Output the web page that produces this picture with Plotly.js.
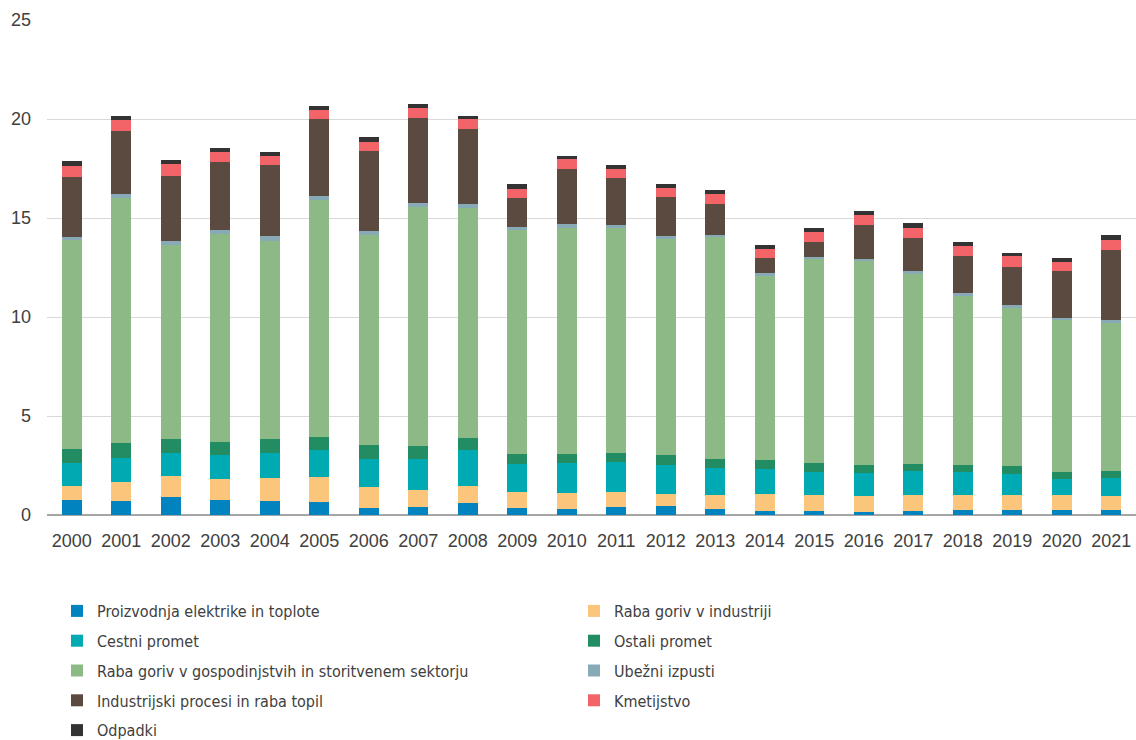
<!DOCTYPE html>
<html>
<head>
<meta charset="utf-8">
<script src="https://cdn.plot.ly/plotly-3.0.1.min.js"></script>
<style>html,body{margin:0;padding:0;background:#fff;}#chart{width:1136px;height:740px;}</style>
</head>
<body>
<div id="chart"></div>
<script>
const years = ["2000","2001","2002","2003","2004","2005","2006","2007","2008","2009","2010","2011","2012","2013","2014","2015","2016","2017","2018","2019","2020","2021"];

const seriesNames = [
  "Proizvodnja elektrike in toplote",
  "Raba goriv v industriji",
  "Cestni promet",
  "Ostali promet",
  "Raba goriv v gospodinjstvih in storitvenem sektorju",
  "Ubežni izpusti",
  "Industrijski procesi in raba topil",
  "Kmetijstvo",
  "Odpadki"
];

const proizvodnja = [0.74,0.69,0.91,0.74,0.71,0.66,0.34,0.39,0.63,0.34,0.30,0.39,0.44,0.30,0.22,0.19,0.15,0.20,0.25,0.25,0.25,0.25];
const industrija  = [0.71,0.98,1.04,1.10,1.16,1.26,1.09,0.89,0.83,0.81,0.81,0.77,0.64,0.73,0.86,0.80,0.81,0.83,0.78,0.78,0.75,0.69];
const cestni      = [1.16,1.21,1.18,1.18,1.26,1.35,1.40,1.53,1.81,1.43,1.52,1.50,1.45,1.34,1.24,1.18,1.15,1.18,1.14,1.04,0.84,0.93];
const ostali      = [0.72,0.76,0.69,0.69,0.69,0.69,0.72,0.66,0.64,0.52,0.47,0.49,0.49,0.44,0.44,0.44,0.42,0.39,0.36,0.39,0.32,0.34];
const gospod      = [10.54,12.37,9.84,10.48,10.04,11.95,10.58,12.07,11.62,11.28,11.39,11.33,10.90,11.22,9.33,10.30,10.30,9.59,8.53,7.98,7.67,7.49];
const ubezni      = [0.19,0.19,0.20,0.20,0.23,0.22,0.21,0.22,0.20,0.17,0.21,0.17,0.19,0.13,0.12,0.14,0.12,0.15,0.14,0.15,0.14,0.13];
const procesi     = [3.03,3.21,3.26,3.44,3.57,3.87,4.04,4.29,3.75,1.46,2.79,2.36,1.94,1.57,0.77,0.76,1.70,1.67,1.87,1.96,2.34,3.57];
const kmetijstvo  = [0.52,0.52,0.59,0.49,0.46,0.45,0.46,0.51,0.50,0.47,0.49,0.45,0.49,0.48,0.47,0.48,0.49,0.49,0.52,0.52,0.49,0.47];
const odpadki     = [0.25,0.21,0.20,0.23,0.20,0.23,0.24,0.22,0.19,0.24,0.17,0.22,0.20,0.19,0.19,0.20,0.23,0.27,0.20,0.18,0.20,0.26];

const seriesValues = [proizvodnja, industrija, cestni, ostali, gospod, ubezni, procesi, kmetijstvo, odpadki];
const colors = ["#0083BF","#FBC57B","#00AAB2","#228C62","#8DB986","#88A9B6","#5A4A40","#F36469","#333333"];

const traces = seriesNames.map((n, i) => ({
  type: "bar",
  name: n,
  x: years,
  y: seriesValues[i],
  legend: (i % 2 === 0) ? "legend" : "legend2",
  legendgroup: "g" + i,
  marker: {color: colors[i], line: {width: 0}},
  hoverinfo: "x+y+name"
}));

const tickFont = {family: "Liberation Sans, Arial, sans-serif", size: 18, color: "#404040"};
const legFont = {family: "DejaVu Sans Condensed, Liberation Sans Narrow, sans-serif", size: 16, color: "#404040"};

const legBase = {
  orientation: "v",
  xref: "container",
  yref: "container",
  xanchor: "left",
  yanchor: "top",
  y: 1 - 594 / 740,
  traceorder: "grouped",
  tracegroupgap: 6,
  font: legFont,
  bgcolor: "rgba(0,0,0,0)",
  borderwidth: 0
};

const layout = {
  width: 1136,
  height: 740,
  margin: {l: 47, r: 0, t: 20, b: 225, autoexpand: false},
  barmode: "stack",
  bargap: 0.6,
  paper_bgcolor: "#ffffff",
  plot_bgcolor: "#ffffff",
  showlegend: true,
  legend: Object.assign({}, legBase, {x: 57 / 1136}),
  legend2: Object.assign({}, legBase, {x: 574 / 1136}),
  xaxis: {
    type: "category",
    tickfont: tickFont,
    showgrid: false,
    showline: false,
    ticks: "",
    ticklabelstandoff: 13,
    fixedrange: true
  },
  yaxis: {
    range: [0, 25],
    dtick: 5,
    tickfont: tickFont,
    showgrid: true,
    gridcolor: "#d9d9d9",
    gridwidth: 1,
    zeroline: true,
    zerolinecolor: "#a6a6a6",
    zerolinewidth: 2,
    ticks: "",
    ticklabelstandoff: 15,
    fixedrange: true
  }
};

Plotly.newPlot("chart", traces, layout, {displayModeBar: false, staticPlot: true});
</script>
</body>
</html>
